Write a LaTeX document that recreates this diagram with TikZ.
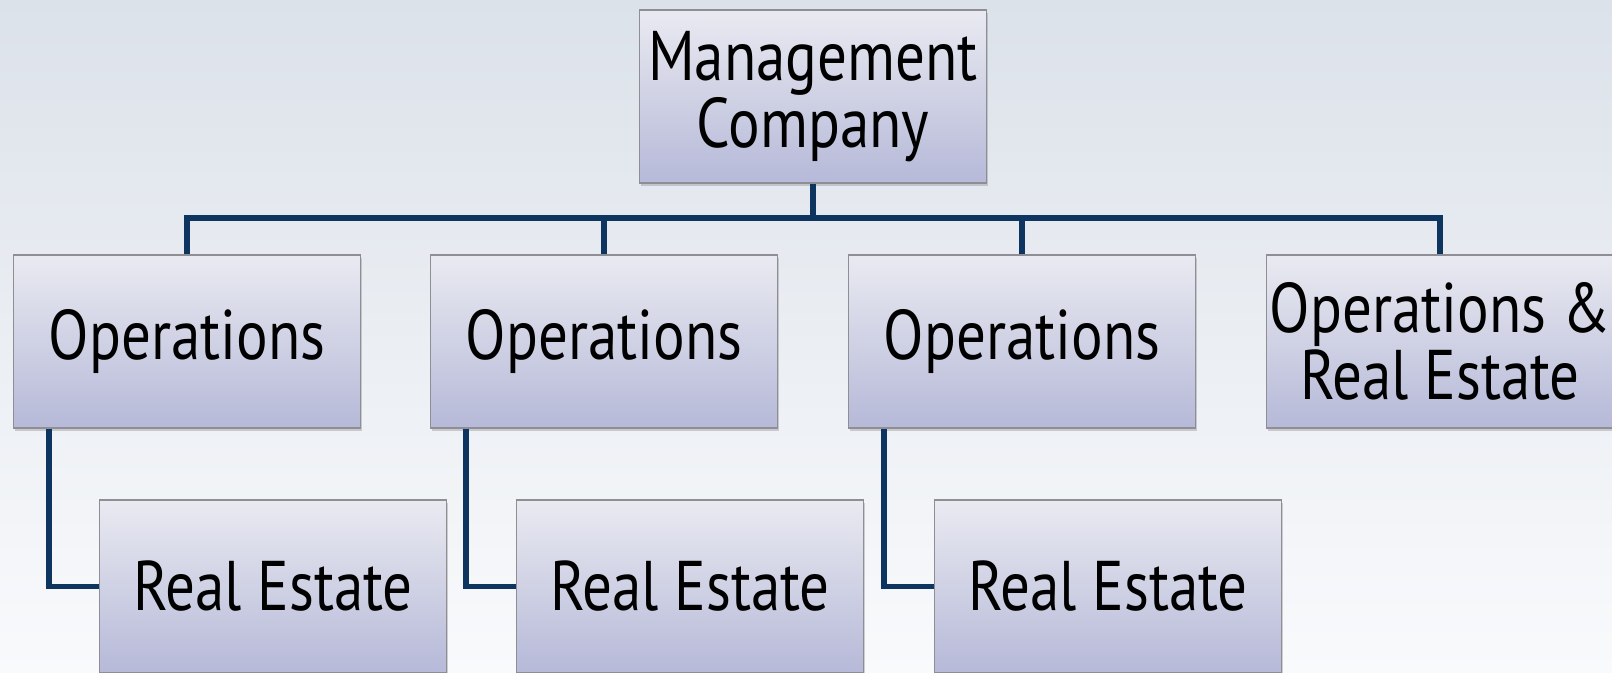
\documentclass[tikz,border=0pt]{standalone}
\usepackage{fontspec}
\setmainfont{PT Sans}[FakeStretch=0.84]
\usetikzlibrary{shadows}

\definecolor{bgtop}{HTML}{DCE2EA}
\definecolor{bgbottom}{HTML}{F9FAFC}
\definecolor{boxtop}{HTML}{E9EAF1}
\definecolor{boxbottom}{HTML}{B6B9D8}
\definecolor{boxline}{HTML}{8E8E94}
\definecolor{linkblue}{HTML}{0E3560}

\tikzset{
  orgbox/.style={draw=boxline, line width=0.8pt, top color=boxtop, bottom color=boxbottom,
    minimum width=6.94cm, minimum height=3.46cm, inner sep=0pt, align=center,
    font=\fontsize{40}{38.5}\selectfont,
    drop shadow={opacity=0.35, shadow xshift=0.03cm, shadow yshift=-0.07cm}},
  link/.style={draw=linkblue, line width=3.3pt}
}

\begin{document}
\begin{tikzpicture}

% Background
\clip (0,0) rectangle (32.24,13.46);
\shade[top color=bgtop, bottom color=bgbottom] (0,0) rectangle (32.24,13.46);

% Top box
\node[orgbox] (mgmt) at (16.26,11.53) {Management\\Company};

% Operations row
\node[orgbox] (ops1) at (3.74,6.63) {Operations};
\node[orgbox] (ops2) at (12.08,6.63) {Operations};
\node[orgbox] (ops3) at (20.44,6.63) {Operations};
\node[orgbox] (opsre) at (28.8,6.63) {Operations \&\\Real Estate};

% Real estate row
\node[orgbox] (re1) at (5.46,1.73) {Real Estate};
\node[orgbox] (re2) at (13.8,1.73) {Real Estate};
\node[orgbox] (re3) at (22.16,1.73) {Real Estate};

% Connectors
\coordinate (bar) at (16.26,9.1);
\draw[link] (mgmt.south) -- (bar);
\draw[link] (ops1.north) |- (bar) -| (opsre.north);
\draw[link] (ops2.north) -- (ops2.north |- bar);
\draw[link] (ops3.north) -- (ops3.north |- bar);

\draw[link] ([xshift=0.72cm]ops1.south west) |- (re1.west);
\draw[link] ([xshift=0.72cm]ops2.south west) |- (re2.west);
\draw[link] ([xshift=0.72cm]ops3.south west) |- (re3.west);

\end{tikzpicture}
\end{document}
